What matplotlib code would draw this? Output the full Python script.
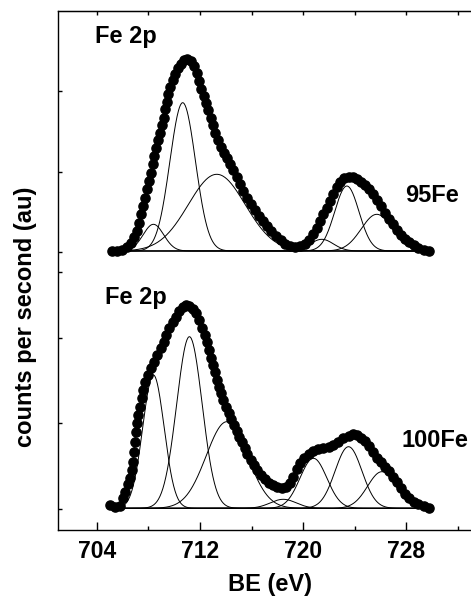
import numpy as np
import matplotlib.pyplot as plt

plt.rcParams["font.family"] = ["Liberation Sans", "DejaVu Sans"]
plt.rcParams["font.weight"] = "bold"

# ---- 95Fe (upper spectrum), binding energy (eV) and counts above baseline (au)
be_95 = [705.16, 705.55, 705.94, 706.32, 706.63, 706.89, 707.10, 707.28, 707.43, 707.62,
         707.77, 707.93, 708.08, 708.21, 708.34, 708.47, 708.60, 708.75, 708.91, 709.06,
         709.19, 709.32, 709.42, 709.53, 709.68, 709.89, 710.10, 710.30, 710.51, 710.77,
         711.03, 711.28, 711.54, 711.75, 711.93, 712.11, 712.29, 712.47, 712.65, 712.84,
         713.02, 713.20, 713.40, 713.61, 713.84, 714.08, 714.33, 714.59, 714.85, 715.11,
         715.37, 715.63, 715.94, 716.25, 716.56, 716.87, 717.18, 717.54, 717.90, 718.26,
         718.62, 718.99, 719.37, 719.76, 720.12, 720.43, 720.74, 721.05, 721.31, 721.57,
         721.83, 722.09, 722.34, 722.60, 722.86, 723.17, 723.51, 723.84, 724.15, 724.46,
         724.77, 725.08, 725.39, 725.70, 726.01, 726.32, 726.63, 726.94, 727.25, 727.56,
         727.87, 728.18, 728.55, 728.93, 729.32, 729.71]
cps_95 = [0, 0, 1.3, 4, 8.3, 14, 20, 28.3, 36.7, 45,
          53.3, 61.7, 70, 78.3, 86.7, 95, 102.7, 110.7, 118.3, 126,
          133.3, 141.7, 149.3, 157.3, 164, 170.7, 176.7, 182.7, 187.3, 190.7,
          191.7, 190, 185, 178.3, 170, 161.7, 155, 148.3, 140.7, 133.3,
          126, 118.3, 110.7, 104, 98.3, 92.7, 86.7, 80.7, 74, 67.3,
          60, 53.3, 46.7, 40.7, 35, 30, 25, 20, 15, 10.7,
          7.3, 5.3, 4.3, 5.3, 7.3, 11.3, 16.7, 23.3, 30, 36.7,
          43.3, 50, 57.3, 64, 69.3, 72.7, 74, 74, 72.3, 69.3,
          66, 61.7, 56.7, 50.7, 44.7, 38.3, 32.3, 26.7, 21, 16,
          11.7, 8.7, 6, 3.3, 1.3, 0]
# fitted components: centre (eV), height (au), width sigma (eV)
peak_pos_95 = [708.39, 710.66, 713.30, 721.44, 723.38, 725.70]
peak_h_95 = [26.7, 148.3, 76.7, 11.7, 65.0, 36.7]
peak_w_95 = [0.80, 0.99, 2.20, 0.90, 0.94, 1.20]
fit_range_95 = (706.5, 728.8)
offset_95 = 279

# ---- 100Fe (lower spectrum)
be_100 = [705.03, 705.42, 705.81, 706.01, 706.22, 706.43, 706.58, 706.71, 706.79, 706.87,
          706.94, 707.02, 707.10, 707.23, 707.36, 707.49, 707.62, 707.77, 707.95, 708.18,
          708.44, 708.70, 708.96, 709.19, 709.40, 709.63, 709.89, 710.15, 710.41, 710.66,
          710.92, 711.18, 711.44, 711.70, 711.96, 712.16, 712.37, 712.53, 712.68, 712.84,
          712.99, 713.15, 713.30, 713.46, 713.64, 713.82, 714.02, 714.23, 714.44, 714.64,
          714.85, 715.06, 715.26, 715.47, 715.68, 715.94, 716.19, 716.45, 716.76, 717.07,
          717.38, 717.69, 718.00, 718.34, 718.68, 718.99, 719.24, 719.50, 719.76, 720.07,
          720.41, 720.79, 721.18, 721.57, 721.96, 722.34, 722.73, 723.12, 723.51, 723.84,
          724.15, 724.46, 724.77, 725.08, 725.39, 725.70, 726.01, 726.32, 726.63, 726.94,
          727.25, 727.56, 727.87, 728.18, 728.55, 728.93, 729.32, 729.71]
cps_100 = [3.3, 1.6, 2.6, 10, 16.6, 24, 30.6, 38.3, 46.6, 56.6,
           66.6, 76.6, 85, 93.3, 101.6, 110, 118.3, 126, 133.3, 140,
           146.6, 153.3, 160, 166.6, 173.3, 180, 186, 191.6, 197.3, 201.6,
           203.3, 202.6, 199.3, 195, 188.3, 180.6, 173.3, 166, 158.3, 150.6,
           143.3, 136, 128.3, 121.6, 115, 108.3, 101.6, 95, 89.3, 83.3,
           77.3, 71.6, 66, 60, 54, 48.3, 43.3, 38.3, 33.3, 29,
           25.6, 23.3, 21.6, 20.6, 21.3, 25, 31.6, 39.3, 45, 50,
           54, 57.3, 59.3, 60.6, 61.3, 63.3, 66.6, 70, 72.6, 74,
           73.3, 70.6, 67.3, 62.6, 56.6, 50.6, 46, 41.6, 37.3, 31.6,
           26, 20, 14.3, 10, 6.6, 4, 2.3, 0.6]
peak_pos_100 = [708.39, 711.18, 714.08, 718.45, 720.79, 723.51, 726.09]
peak_h_100 = [133.3, 171.6, 86.6, 9.0, 50.0, 61.6, 36.6]
peak_w_100 = [0.83, 0.99, 1.60, 1.00, 1.04, 1.04, 1.10]
fit_range_100 = (706.0, 728.8)
offset_100 = 21.7

ytick_pos = [21, 107, 192, 258, 278, 358, 439]


def draw_spectrum(ax, be, cps, pos, h, w, rng, off):
    be = np.asarray(be)
    cps = np.asarray(cps)
    ax.plot(be, cps + off, "-", color="black", lw=0.8, zorder=2)
    ax.plot(be, cps + off, "o", color="black", ms=6.6, mec="black", zorder=3)
    xx = np.linspace(rng[0], rng[1], 600)
    for c, a, s in zip(pos, h, w):
        ax.plot(xx, off + a * np.exp(-0.5 * ((xx - c) / s) ** 2),
                color="black", lw=0.7, zorder=4)


fig = plt.figure(figsize=(4.71, 5.96), dpi=100)
ax = fig.add_axes([58.3 / 471, 66 / 596, (471 - 58.3) / 471, 519 / 596])

draw_spectrum(ax, be_95, cps_95, peak_pos_95, peak_h_95, peak_w_95, fit_range_95, offset_95)
draw_spectrum(ax, be_100, cps_100, peak_pos_100, peak_h_100, peak_w_100, fit_range_100, offset_100)

ax.set_xlim(701.02, 733.0)
ax.set_ylim(0, 519)

for sp in ax.spines.values():
    sp.set_linewidth(1.0)
ax.spines["right"].set_visible(False)

ax.set_xticks([704, 712, 720, 728])
ax.set_xticks([708, 716, 724, 732], minor=True)
ax.tick_params(axis="x", which="major", direction="in", length=6, width=1.0,
               labelsize=16.5, pad=7)
ax.tick_params(axis="x", which="minor", direction="in", length=3, width=1.0)
for lab in ax.get_xticklabels():
    lab.set_fontweight("bold")

ax.set_yticks(ytick_pos)
ax.set_yticklabels([])
ax.tick_params(axis="y", direction="in", length=3, width=1.0)

top = ax.secondary_xaxis("top")
top.set_xticks([704, 708, 712, 716, 720, 724, 728, 732])
top.set_xticklabels([])
top.tick_params(direction="in", length=3, width=1.0)

ax.text(703.87, 487.3, "Fe 2p", fontsize=17, fontweight="bold", va="baseline")
ax.text(704.64, 226, "Fe 2p", fontsize=17, fontweight="bold", va="baseline")
ax.text(727.9, 328.3, "95Fe", fontsize=17, fontweight="bold", va="baseline")
ax.text(727.64, 82.7, "100Fe", fontsize=17, fontweight="bold", va="baseline")

fig.text(270 / 471, 1 - 585 / 596, "BE (eV)", fontsize=17, fontweight="bold",
         ha="center", va="center")
fig.text(26 / 471, 1 - 316.5 / 596, "counts per second (au)", fontsize=17,
         fontweight="bold", rotation=90, ha="center", va="center")

fig.savefig("out.png", dpi=100)
